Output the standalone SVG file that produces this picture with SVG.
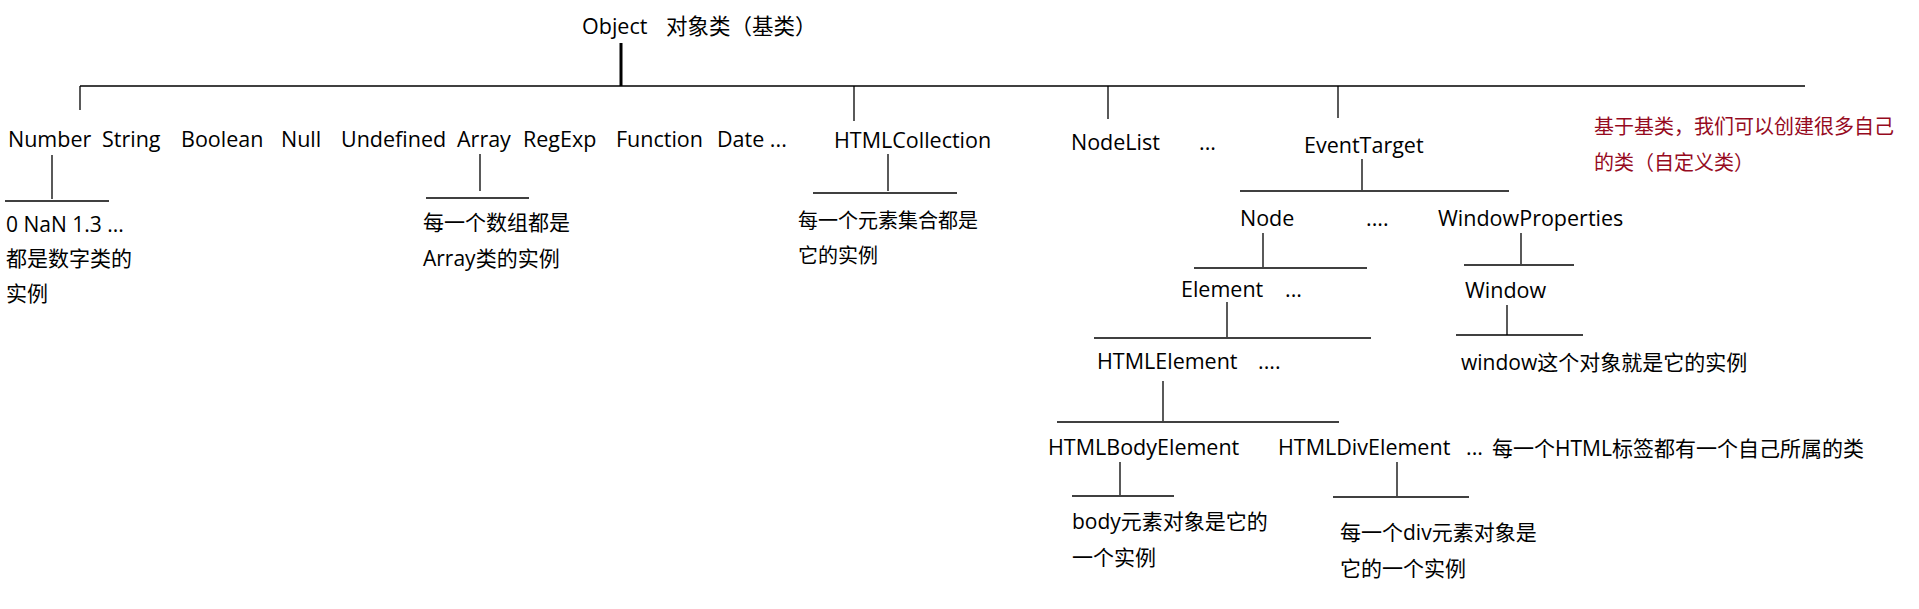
<svg xmlns="http://www.w3.org/2000/svg" width="1919" height="609" viewBox="0 0 1919 609">
<style>
text{font-family:"Open Sans","Noto Sans CJK SC",sans-serif;font-size:21.5px;fill:#000}
.note{font-size:21px}
.small{font-size:20px}
.red{fill:#960A1E;font-size:20px}
line{stroke:#000;stroke-width:1.3}
.thick{stroke-width:3}
</style>
<rect width="1919" height="609" fill="#fff"/>
<g id="connectors">
<line class="thick" x1="621" y1="43" x2="621" y2="86"/>
<line x1="80" y1="86" x2="1805" y2="86"/>
<line x1="80" y1="86" x2="80" y2="110"/>
<line x1="854" y1="86" x2="854" y2="121"/>
<line x1="1108" y1="86" x2="1108" y2="119"/>
<line x1="1338" y1="86" x2="1338" y2="118"/>
<line x1="52" y1="155" x2="52" y2="199"/>
<line x1="5" y1="201" x2="109" y2="201"/>
<line x1="480" y1="154" x2="480" y2="191"/>
<line x1="426" y1="198" x2="529" y2="198"/>
<line x1="888" y1="154" x2="888" y2="191"/>
<line x1="813" y1="193" x2="957" y2="193"/>
<line x1="1362" y1="159" x2="1362" y2="190"/>
<line x1="1240" y1="191" x2="1509" y2="191"/>
<line x1="1263" y1="233" x2="1263" y2="267"/>
<line x1="1194" y1="268" x2="1367" y2="268"/>
<line x1="1521" y1="233" x2="1521" y2="264"/>
<line x1="1464" y1="265" x2="1574" y2="265"/>
<line x1="1227" y1="302" x2="1227" y2="337"/>
<line x1="1094" y1="338" x2="1371" y2="338"/>
<line x1="1507" y1="305" x2="1507" y2="335"/>
<line x1="1456" y1="335" x2="1583" y2="335"/>
<line x1="1163" y1="381" x2="1163" y2="421"/>
<line x1="1057" y1="422" x2="1339" y2="422"/>
<line x1="1120" y1="462" x2="1120" y2="495"/>
<line x1="1072" y1="496" x2="1174" y2="496"/>
<line x1="1397" y1="462" x2="1397" y2="496"/>
<line x1="1333" y1="497" x2="1469" y2="497"/>
</g>
<g id="object"><text x="582" y="34">Object</text><text x="666" y="34">对象类（基类）</text></g>
<g id="number"><text x="8" y="147">Number</text></g>
<g id="string"><text x="102" y="147">String</text></g>
<g id="boolean"><text x="181" y="147">Boolean</text></g>
<g id="null"><text x="281" y="147">Null</text></g>
<g id="undefined"><text x="341" y="147">Undefined</text></g>
<g id="array"><text x="457" y="147">Array</text></g>
<g id="regexp"><text x="523" y="147">RegExp</text></g>
<g id="function"><text x="616" y="147">Function</text></g>
<g id="date"><text x="717" y="147">Date ...</text></g>
<g id="htmlcollection"><text x="834" y="148">HTMLCollection</text></g>
<g id="nodelist"><text x="1071" y="150">NodeList</text></g>
<g id="more1"><text x="1199" y="150">...</text></g>
<g id="eventtarget"><text x="1304" y="153">EventTarget</text></g>
<g id="note-custom"><text class="red" x="1594" y="134">基于基类，我们可以创建很多自己</text><text class="red" x="1594" y="170">的类（自定义类）</text></g>
<g id="number-inst"><text class="note" x="6" y="232">0 NaN 1.3 ...</text><text class="note" x="6" y="266">都是数字类的</text><text class="note" x="6" y="301">实例</text></g>
<g id="array-inst"><text class="note" x="423" y="230">每一个数组都是</text><text class="note" x="423" y="266">Array类的实例</text></g>
<g id="coll-inst"><text class="small" x="798" y="228">每一个元素集合都是</text><text class="small" x="798" y="263">它的实例</text></g>
<g id="node"><text x="1240" y="226">Node</text></g>
<g id="more2"><text x="1366" y="226">....</text></g>
<g id="windowproperties"><text x="1438" y="226">WindowProperties</text></g>
<g id="element"><text x="1181" y="297">Element</text></g>
<g id="more3"><text x="1285" y="297">...</text></g>
<g id="window"><text x="1465" y="298">Window</text></g>
<g id="window-inst"><text class="note" x="1461" y="370">window这个对象就是它的实例</text></g>
<g id="htmlelement"><text x="1097" y="369">HTMLElement</text></g>
<g id="more4"><text x="1258" y="369">....</text></g>
<g id="htmlbodyelement"><text x="1048" y="455">HTMLBodyElement</text></g>
<g id="htmldivelement"><text x="1278" y="455">HTMLDivElement</text></g>
<g id="more5"><text x="1466" y="455">...</text></g>
<g id="note-tags"><text class="note" x="1492" y="456">每一个HTML标签都有一个自己所属的类</text></g>
<g id="body-inst"><text class="note" x="1072" y="529">body元素对象是它的</text><text class="note" x="1072" y="565">一个实例</text></g>
<g id="div-inst"><text class="note" x="1340" y="540">每一个div元素对象是</text><text class="note" x="1340" y="576">它的一个实例</text></g>
</svg>
